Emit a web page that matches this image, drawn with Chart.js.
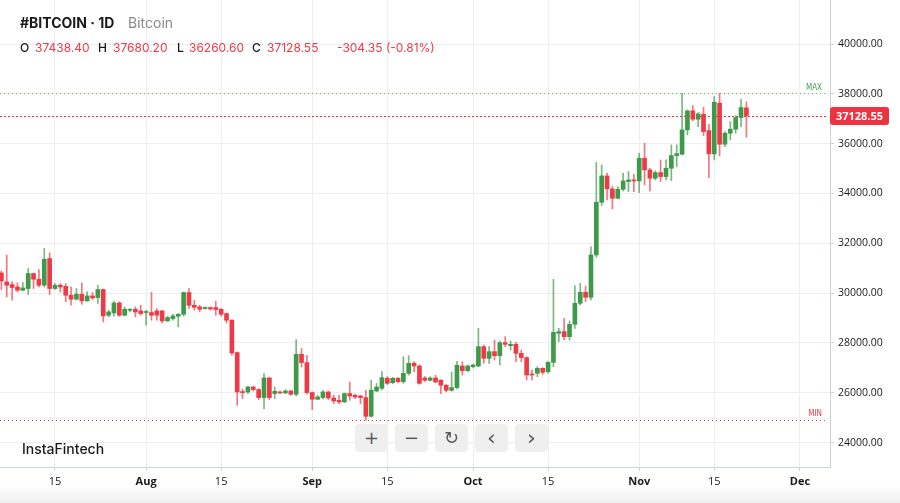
<!DOCTYPE html>
<html>
<head>
<meta charset="utf-8">
<script src="https://cdn.jsdelivr.net/npm/chart.js@4.4.0/dist/chart.umd.min.js"></script>
<style>
  html, body { margin: 0; padding: 0; background: #fff; }
  #wrap { position: relative; width: 900px; height: 503px; overflow: hidden; font-family: Inter, "Noto Sans", sans-serif; }
  #chart { position: absolute; left: 0; top: 0; }
  .t { position: absolute; white-space: nowrap; }
  .title { top: 14px; font-size: 14px; line-height: 18px; }
  .ohlc { top: 40px; font-size: 12px; line-height: 16px; }
  .dark { color: #1a1a1a; }
  .red { color: #f03a4a; }
  .btn { position: absolute; top: 424px; width: 33px; height: 28px; border-radius: 4px; background: #efefef;
         color: #5a5a5a; font-family: "DejaVu Sans", sans-serif; font-size: 18px; line-height: 28px; text-align: center; }
  #fadeB { position: absolute; left: 0; top: 486px; width: 900px; height: 17px;
           background: linear-gradient(rgba(242,242,242,0), #eeeeee); }
</style>
</head>
<body>
<div id="wrap">
  <canvas id="chart" width="900" height="503"></canvas>
  <div class="t title dark" style="left:20px;font-weight:700">#BITCOIN · 1D</div>
  <div class="t title" style="left:128px;color:#8a8a8a">Bitcoin</div>
  <div class="t ohlc dark" style="left:20px;font-weight:500">O</div>
  <div class="t ohlc red" style="left:35px">37438.40</div>
  <div class="t ohlc dark" style="left:98px;font-weight:500">H</div>
  <div class="t ohlc red" style="left:113px">37680.20</div>
  <div class="t ohlc dark" style="left:177px;font-weight:500">L</div>
  <div class="t ohlc red" style="left:189px">36260.60</div>
  <div class="t ohlc dark" style="left:252px;font-weight:500">C</div>
  <div class="t ohlc red" style="left:267px">37128.55</div>
  <div class="t ohlc red" style="left:337px">-304.35 (-0.81%)</div>
  <div class="t dark" style="left:22px;top:440px;font-size:14px;line-height:18px;font-weight:500">InstaFintech</div>
  <div class="btn" style="left:355px">+</div>
  <div class="btn" style="left:395px">−</div>
  <div class="btn" style="left:435px">↻</div>
  <div class="btn" style="left:475px;font-size:22px">‹</div>
  <div class="btn" style="left:515px;font-size:22px">›</div>
  <div id="fadeB"></div>
</div>
<script>
// day numbers count from Jul 1 (= 0); first candle is Jul 5
const firstDay = 4;

const opens = [
  30811, 30450, 30345, 30249, 30116, 30185, 30787, 30558, 30317, 31390,
  30185, 30317, 30273, 29915, 29755, 29956, 29687, 29888, 29823, 30144,
  29112, 29205, 29606, 29112, 29313, 29353, 29285, 29221, 29221, 29285,
  29285, 28884, 28980, 29072, 29152, 30024, 29510, 29446, 29381, 29421,
  29421, 29353, 29180, 28912, 27614, 26032, 26032, 26233, 26129, 25807,
  26594, 25968, 26032, 25992, 26072, 25940, 27546, 27213, 26008, 25739,
  25807, 26032, 25791, 25699, 25631, 25968, 25900, 25871, 25807, 25056,
  26072, 26178, 26579, 26405, 26579, 26446, 26780, 27182, 27075, 26594,
  26502, 26594, 26502, 26301, 26100, 26209, 27075, 26887, 27048, 27075,
  27851, 27383, 27650, 27490, 28012, 27891, 27945, 27584, 27410, 26753,
  26780, 26981, 26847, 27222, 28387, 28454, 28253, 28748, 29592, 30033,
  29833, 31533, 33648, 34705, 34183, 33808, 34170, 34478, 34545, 34505,
  35415, 34946, 34612, 34839, 34679, 35013, 35522, 35576, 36553, 37316,
  36981, 37182, 36526, 35589, 37624, 35977, 36419, 36580, 37048, 37438.40
];
const highs = [
  30891, 31522, 30450, 30410, 30426, 30988, 30800, 30948, 31791, 31614,
  30385, 30385, 30385, 30249, 30185, 30410, 30048, 30024, 30317, 30160,
  29313, 29675, 29647, 29446, 29381, 29446, 29514, 29313, 30024, 29381,
  29313, 29072, 29152, 29180, 30048, 30185, 29715, 29514, 29446, 29446,
  29675, 29381, 29205, 28940, 27638, 26141, 26261, 26261, 26169, 26771,
  26610, 26233, 26072, 26129, 26100, 28136, 27775, 27506, 26032, 25900,
  26100, 26072, 25900, 25900, 25992, 26434, 25940, 25900, 26100, 26502,
  26370, 26847, 26650, 26620, 26620, 27450, 27490, 27249, 27115, 26650,
  26640, 26703, 26530, 26330, 26835, 27265, 27249, 27120, 27150, 28587,
  27918, 27851, 28119, 28079, 28253, 28079, 28025, 27717, 27450, 26914,
  27048, 27008, 27249, 30555, 28587, 28989, 28882, 30288, 30395, 30288,
  31867, 35241, 35147, 34812, 34277, 34277, 34812, 34880, 34772, 35616,
  36017, 35013, 34906, 35348, 35348, 35950, 35950, 38025, 37356, 37530,
  37249, 37463, 36780, 37891, 38025, 36486, 36887, 37128, 37784, 37680.20
];
const lows = [
  30144, 29847, 29715, 30048, 30088, 29944, 30185, 30249, 30249, 29944,
  30144, 30048, 29647, 29514, 29743, 29554, 29675, 29743, 29582, 28843,
  29044, 29072, 29072, 29084, 29245, 29044, 29112, 28711, 28912, 28912,
  28803, 28870, 28912, 28643, 29072, 29381, 29313, 29245, 29353, 29313,
  29112, 29072, 28803, 27506, 25498, 25767, 25968, 26072, 25727, 25365,
  25727, 25767, 25968, 25968, 25900, 25871, 27036, 25940, 25325, 25727,
  25767, 25727, 25566, 25566, 25606, 25699, 25767, 25566, 24896, 25028,
  26040, 26111, 26330, 26360, 26400, 26379, 26713, 26847, 26339, 26450,
  26470, 26400, 25968, 26040, 26060, 26150, 26713, 26850, 27000, 27048,
  27182, 27182, 27316, 27115, 27851, 27717, 27249, 27249, 26513, 26513,
  26646, 26740, 26780, 27048, 28052, 28119, 28119, 28587, 29525, 29659,
  29726, 31439, 33514, 33741, 33380, 33782, 34103, 34076, 34076, 34036,
  34344, 34103, 34545, 34478, 34545, 34518, 35080, 35549, 36352, 36914,
  36687, 36325, 34638, 35348, 35509, 35884, 36151, 36419, 36687, 36260.60
];
const closes = [
  30490, 30317, 30225, 30116, 30209, 30787, 30558, 30317, 31361, 30185,
  30317, 30249, 29915, 29755, 29956, 29687, 29888, 29807, 30144, 29084,
  29245, 29606, 29112, 29353, 29353, 29245, 29180, 29245, 29112, 29112,
  28884, 29020, 29084, 29152, 30024, 29510, 29430, 29353, 29421, 29365,
  29340, 29152, 28912, 27598, 26032, 26008, 26233, 26129, 25807, 26594,
  25807, 26060, 25992, 26072, 25940, 27546, 27213, 26008, 25739, 25831,
  26032, 25791, 25671, 25631, 25968, 25871, 25831, 25807, 25056, 26100,
  26233, 26607, 26379, 26579, 26446, 26780, 27182, 27075, 26379, 26502,
  26594, 26434, 26301, 26100, 26209, 27104, 26887, 27075, 27115, 27851,
  27383, 27650, 27490, 28012, 27945, 27945, 27584, 27410, 26713, 26713,
  26981, 26820, 27222, 28427, 28454, 28253, 28748, 29592, 30033, 29833,
  31533, 33648, 34705, 34183, 33808, 34170, 34505, 34545, 34505, 35415,
  34946, 34612, 34839, 34679, 35013, 35522, 35602, 36553, 37316, 36981,
  37195, 36486, 35589, 37664, 35977, 36419, 36580, 37048, 37450, 37128.55
];

const xTickDays = [14, 31, 45, 62, 76, 92, 106, 123, 137, 153];
const xTickLabels = ['15', 'Aug', '15', 'Sep', '15', 'Oct', '15', 'Nov', '15', 'Dec'];
const yTicks = [24000, 26000, 28000, 30000, 32000, 34000, 36000, 38000, 40000];

const GREEN = '#3d9a48';
const RED = '#ee3a46';
const GREEN_WICK = 'rgba(61,154,72,0.7)';
const RED_WICK = 'rgba(238,58,70,0.7)';
const AXIS = '#cbd3da';
const GRID = '#eeeeee';

const up = opens.map((o, i) => closes[i] >= o);
const bodies = opens.map((o, i) => ({ x: firstDay + i, y: [o, closes[i]] }));
const wicks = lows.map((l, i) => ({ x: firstDay + i, y: [l, highs[i]] }));

const maxHigh = Math.max(...highs);
const minLow = Math.min(...lows);
const lastClose = closes[closes.length - 1];

const refLines = {
  id: 'refLines',
  beforeDatasetsDraw(chart) {
    const { ctx, chartArea: a, scales: { y } } = chart;
    const line = (v, color, dash) => {
      const py = Math.round(y.getPixelForValue(v)) + 0.5;
      ctx.save();
      ctx.globalAlpha = 1;
      ctx.strokeStyle = color;
      ctx.lineWidth = 1;
      ctx.setLineDash(dash);
      ctx.beginPath();
      ctx.moveTo(a.left, py);
      ctx.lineTo(a.right - 2, py);
      ctx.stroke();
      ctx.restore();
    };
    line(maxHigh, '#5cc46c', [1, 3]);
    line(minLow, '#f5283c', [1, 3]);
    line(lastClose, '#f5283c', [2, 2]);
  },
  afterDraw(chart) {
    const { ctx, chartArea: a, scales: { y } } = chart;
    ctx.save();
    ctx.font = '500 8px "DejaVu Sans Condensed", sans-serif';
    ctx.textAlign = 'right';
    ctx.textBaseline = 'middle';
    ctx.fillStyle = '#3da34a';
    ctx.fillText('MAX', a.right - 8, y.getPixelForValue(maxHigh) - 5);
    ctx.fillStyle = '#ee3a46';
    ctx.fillText('MIN', a.right - 8, y.getPixelForValue(minLow) - 6);

    // last price label on the axis
    const py = Math.round(y.getPixelForValue(lastClose));
    ctx.fillStyle = '#ee3340';
    ctx.beginPath();
    ctx.roundRect(a.right, py - 9, 59, 18, 3);
    ctx.fill();
    ctx.fillStyle = '#fff';
    ctx.font = 'bold 11px "Open Sans", sans-serif';
    ctx.textAlign = 'center';
    ctx.fillText(lastClose.toFixed(2), a.right + 29.5, py + 0.5);
    ctx.restore();
  }
};

new Chart(document.getElementById('chart'), {
  type: 'bar',
  data: {
    datasets: [
      {
        data: bodies,
        backgroundColor: up.map(u => u ? GREEN : RED),
        barThickness: 4,
        minBarLength: 1,
        grouped: false,
        borderWidth: 0,
        borderSkipped: false
      },
      {
        data: wicks,
        backgroundColor: up.map(u => u ? GREEN_WICK : RED_WICK),
        barThickness: 1,
        grouped: false,
        borderWidth: 0,
        borderSkipped: false
      }
    ]
  },
  options: {
    responsive: false,
    animation: false,
    devicePixelRatio: 1,
    layout: { padding: 0 },
    plugins: { legend: { display: false }, tooltip: { enabled: false } },
    scales: {
      x: {
        type: 'linear',
        offset: false,
        min: 3.74,
        max: 158.6,
        afterBuildTicks: s => { s.ticks = xTickDays.map(v => ({ value: v })); },
        afterFit: s => { s.height = 36; s.paddingLeft = 0; s.paddingRight = 0; },
        border: { color: AXIS },
        grid: { color: GRID, tickColor: AXIS, tickLength: 4, offset: false },
        ticks: {
          autoSkip: false,
          maxRotation: 0,
          padding: 4,
          color: '#1a1a1a',
          font: c => ({ family: '"Open Sans", sans-serif', size: 11, weight: xTickLabels[c.index] === '15' ? 'normal' : 'bold' }),
          callback: (v, i) => xTickLabels[i]
        }
      },
      y: {
        position: 'right',
        min: 23020,
        max: 41767,
        afterBuildTicks: s => { s.ticks = yTicks.map(v => ({ value: v })); },
        afterFit: s => { s.width = 70; s.paddingTop = 0; s.paddingBottom = 0; },
        border: { color: AXIS },
        grid: { color: GRID, tickColor: AXIS, tickLength: 4 },
        ticks: {
          padding: 4,
          color: '#1a1a1a',
          font: { family: '"Open Sans", sans-serif', size: 10.5 },
          callback: v => v.toFixed(2)
        }
      }
    }
  },
  plugins: [refLines]
});
</script>
</body>
</html>
